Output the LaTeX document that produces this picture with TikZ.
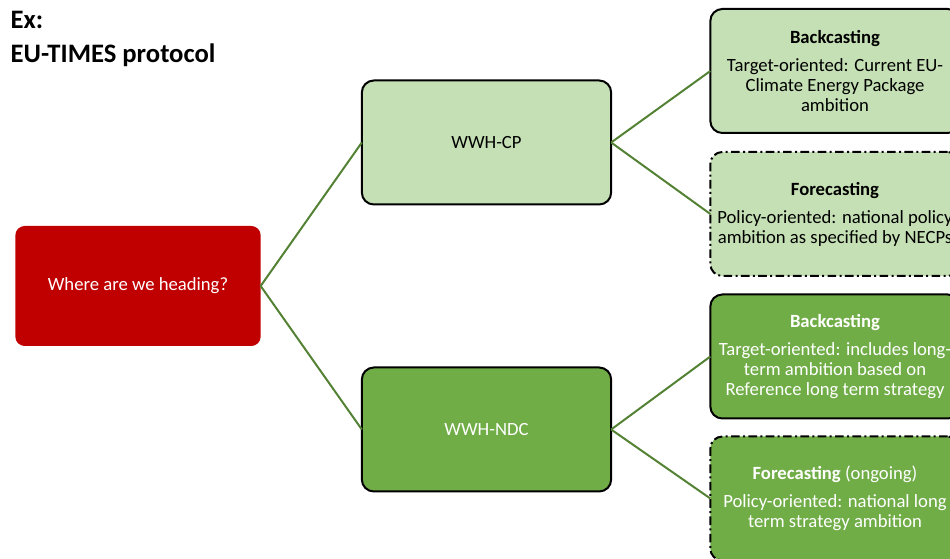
\documentclass[tikz,border=0pt]{standalone}
\usepackage{fontspec}
\setmainfont{Carlito}
\usepackage{tikz}
\usetikzlibrary{positioning}

\definecolor{darkred}{HTML}{C00000}
\definecolor{lightgreen}{HTML}{C5E0B4}
\definecolor{midgreen}{HTML}{70AD47}
\definecolor{linegreen}{HTML}{548235}

\tikzset{
  box/.style={rectangle, rounded corners=9pt, minimum width=187pt,
    minimum height=93pt, align=center, outer sep=0pt,
    font=\fontsize{14}{15}\selectfont},
  rootbox/.style={box, fill=darkred, text=white, minimum width=184pt,
    minimum height=90pt, rounded corners=7pt},
  lightbox/.style={box, fill=lightgreen, draw=black, line width=1.5pt},
  darkbox/.style={box, fill=midgreen, draw=black, line width=1.5pt, text=white},
  dashdot/.style={dash pattern=on 6.5pt off 2.5pt on 1.5pt off 2.5pt},
  link/.style={linegreen, line width=1.5pt},
  heading/.style={anchor=base west, font=\fontsize{20}{24}\selectfont\bfseries}
}

\begin{document}
\begin{tikzpicture}[x=0.75pt, y=-0.75pt]
  \useasboundingbox (0,0) rectangle (950,559);
  \clip (0,0) rectangle (950,559);

  % title
  \node[heading] (ex) at (6,29) {Ex:};
  \node[heading] (protocol) at (6,63) {EU-TIMES protocol};

  % tree
  \node[rootbox] (root) at (138,286) {Where are we heading?};
  \node[lightbox] (cp) at (486.5,142.5) {WWH-CP};
  \node[darkbox] (ndc) at (486.5,429.5) {WWH-NDC};

  \node[lightbox] (cpback) at (835,71)
    {\textbf{Backcasting}\\[6pt]Target-oriented: Current EU-\\Climate Energy Package\\ambition};
  \node[lightbox, dashdot] (cpfore) at (835,214)
    {\textbf{Forecasting}\\[6pt]Policy-oriented: national policy\\ambition as specified by NECPs};
  \node[darkbox] (ndcback) at (835,356.5)
    {\textbf{Backcasting}\\[6pt]Target-oriented: includes long-\\term ambition based on\\Reference long term strategy};
  \node[darkbox, dashdot] (ndcfore) at (835,498.5)
    {\textbf{Forecasting} (ongoing)\\[6pt]Policy-oriented: national long\\term strategy ambition};

  % connectors
  \draw[link] (root.east) -- (cp.west);
  \draw[link] (root.east) -- (ndc.west);
  \draw[link] (cp.east) -- (cpback.west);
  \draw[link] (cp.east) -- (cpfore.west);
  \draw[link] (ndc.east) -- (ndcback.west);
  \draw[link] (ndc.east) -- (ndcfore.west);
\end{tikzpicture}
\end{document}
